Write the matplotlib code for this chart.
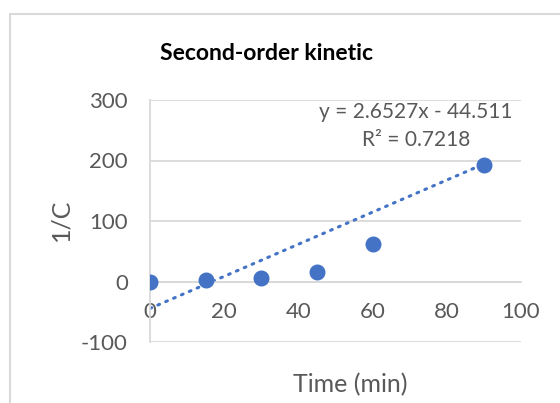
import numpy as np
import matplotlib.pyplot as plt
from matplotlib.patches import Rectangle

tempo = [0, 15, 30, 45, 60, 90]
inv_c = [0, 2, 5, 16, 62, 192]
inclinacao = 2.6527
intercepto = -44.511
r2 = 0.7218

x_ticks = [0, 20, 40, 60, 80, 100]
y_ticks = [-100, 0, 100, 200, 300]

azul = '#4472C4'
cinza = '#595959'
grade = '#D9D9D9'

plt.rcParams['font.family'] = ['Lato', 'DejaVu Sans']
plt.rcParams['axes.unicode_minus'] = False

fig = plt.figure(figsize=(5.6, 4.03), dpi=100)
ax = fig.add_axes([150/560, 1-342/403, (521-150)/560, (342-100)/403])

# borda do grafico (estilo Excel)
fig.patches.append(Rectangle((9.5/560, -0.01), 1, 1-13.5/403 + 0.01, transform=fig.transFigure,
                             fill=False, edgecolor=grade, linewidth=1.5))

xl = np.array([tempo[0], tempo[-1]])
ax.plot(xl, inclinacao*xl + intercepto, linestyle=(0, (0.6, 2.2)), color=azul,
        linewidth=2.2, dash_capstyle='round', zorder=2)
ax.plot(tempo, inv_c, 'o', color=azul, markersize=10.5, zorder=3)

ax.set_xlim(0, 100)
ax.set_ylim(-100, 300)
ax.set_xticks(x_ticks)
ax.set_yticks(y_ticks)
ax.grid(axis='y', color=grade, linewidth=1.3)
ax.set_axisbelow(True)

for s in ['top', 'right']:
    ax.spines[s].set_visible(False)
ax.spines['bottom'].set_position(('data', 0))
ax.spines['bottom'].set_color(grade)
ax.spines['bottom'].set_linewidth(1.3)
ax.spines['left'].set_color(grade)
ax.spines['left'].set_linewidth(1.3)
ax.tick_params(length=0, labelsize=16, labelcolor=cinza)
ax.tick_params(axis='y', pad=16)
ax.tick_params(axis='x', pad=15)

fig.text(267/560, 1-53/403, 'Second-order kinetic', fontsize=16.5, fontweight='bold',
         color='black', ha='center', va='center')
fig.text(61/560, 1-220/403, '1/C', fontsize=18, color=cinza, rotation=90,
         ha='center', va='center')
fig.text(350/560, 1-385/403, 'Time (min)', fontsize=18, color=cinza, ha='center', va='center')

sinal = '-' if intercepto < 0 else '+'
fig.text(416/560, 1-126/403, f'y = {inclinacao}x {sinal} {abs(intercepto)}\nR² = {r2}',
         ha='center', va='center', fontsize=15, color=cinza, linespacing=1.45,
         bbox=dict(facecolor='white', edgecolor='none', pad=1))

fig.savefig('out.png', dpi=100)
